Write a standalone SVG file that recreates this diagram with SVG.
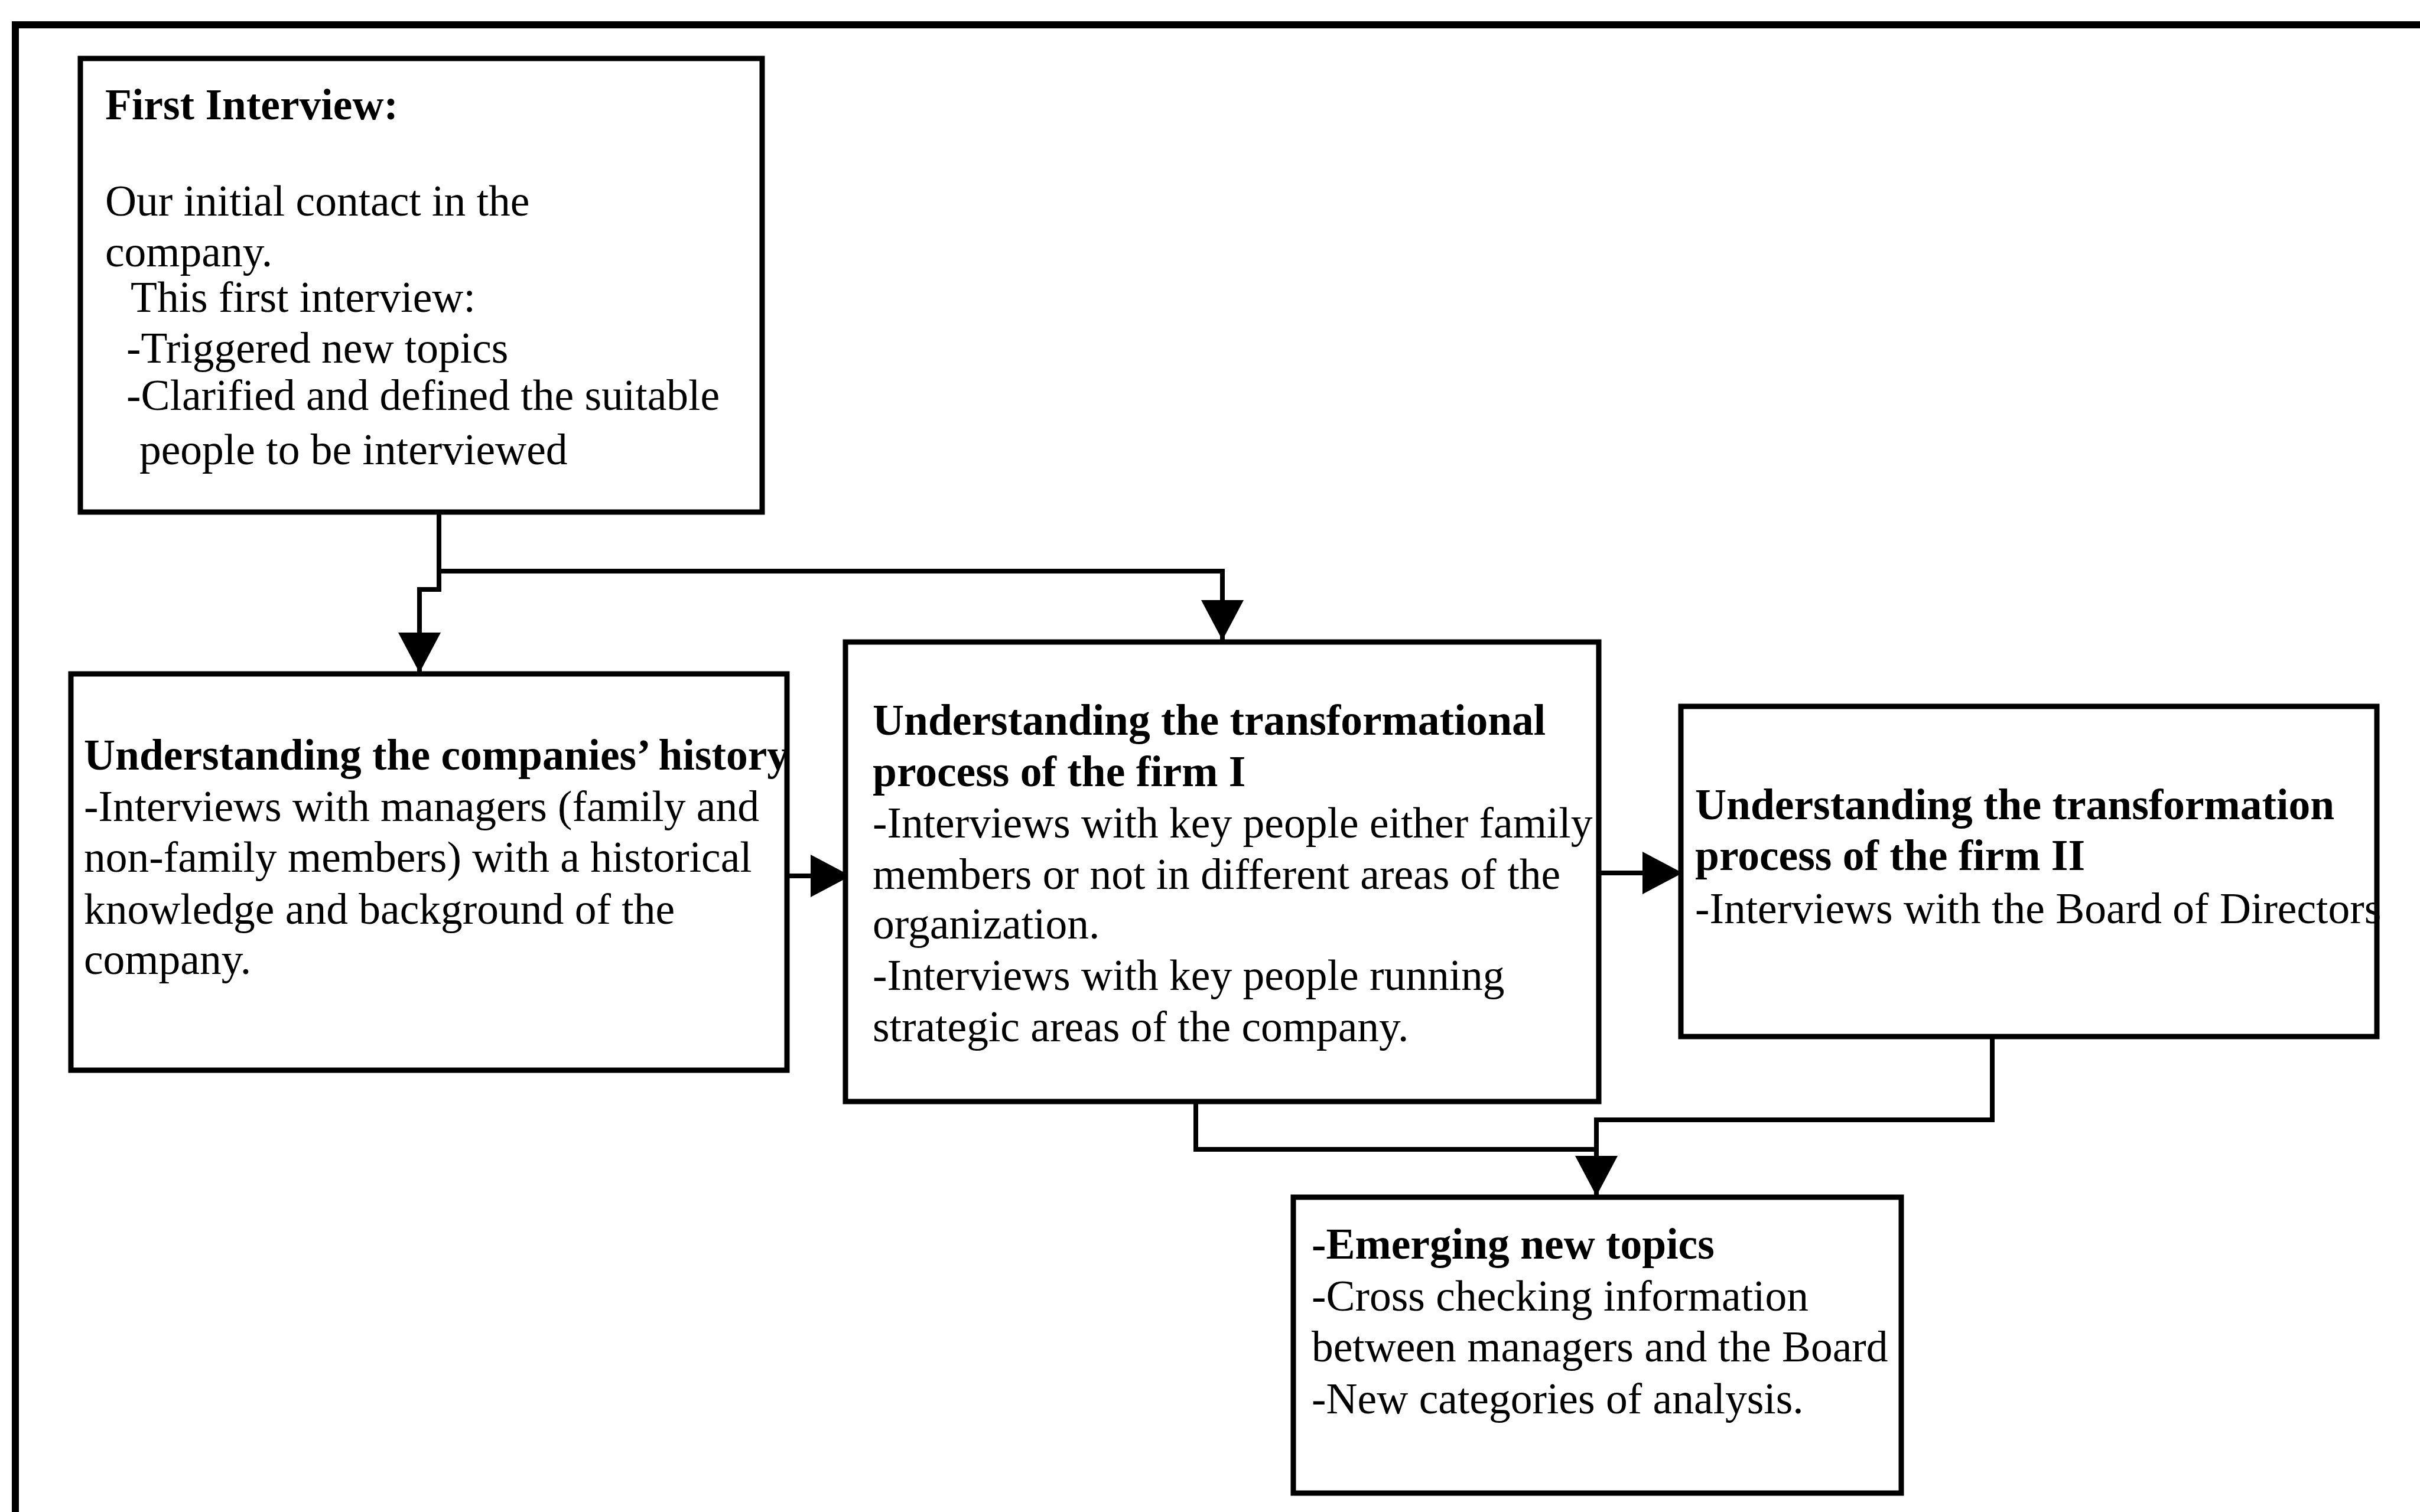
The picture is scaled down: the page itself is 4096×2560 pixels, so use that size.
<svg xmlns="http://www.w3.org/2000/svg" width="4096" height="2560" viewBox="0 0 4096 2560">
<style>
.box{fill:#fff;stroke:#000;stroke-width:9}
.frame{fill:none;stroke:#000;stroke-width:12}
.con{fill:none;stroke:#000;stroke-width:8}
text{font-family:"Liberation Serif","Times New Roman",serif;font-size:73.5px;fill:#000}
.b{font-weight:bold}
</style>
<defs>
<marker id="arr" markerUnits="userSpaceOnUse" markerWidth="70" markerHeight="72" refX="68" refY="36" orient="auto" viewBox="0 0 70 72">
<path d="M0,0 L68,36 L0,72 Z" fill="#000"/>
</marker>
</defs>
<rect width="4096" height="2560" fill="#fff"/>
<path class="frame" d="M26,2570 V42 H4100"/>
<g id="connectors">
<path class="con" d="M743,867 V967 H2069 V1084" marker-end="url(#arr)"/>
<path class="con" d="M743,967 V998 H710 V1139" marker-end="url(#arr)"/>
<path class="con" d="M1332,1483 H1440" marker-end="url(#arr)"/>
<path class="con" d="M2706,1478 H2848" marker-end="url(#arr)"/>
<path class="con" d="M2024,1865 V1946 H2702"/>
<path class="con" d="M3372,1755 V1896 H2702 V2025" marker-end="url(#arr)"/>
</g>
<g id="node-first-interview">
<rect class="box" x="136" y="99" width="1154" height="768"/>
<text class="b" x="178" y="202">First Interview:</text>
<text x="178" y="365">Our initial contact in the</text>
<text x="178" y="451">company.</text>
<text x="221" y="528">This first interview:</text>
<text x="214" y="614">-Triggered new topics</text>
<text x="214" y="694">-Clarified and defined the suitable</text>
<text x="236" y="786">people to be interviewed</text>
</g>
<g id="node-history">
<rect class="box" x="120" y="1141" width="1212" height="671"/>
<text class="b" x="142" y="1303">Understanding the companies’ history</text>
<text x="142" y="1390">-Interviews with managers (family and</text>
<text x="142" y="1476">non-family members) with a historical</text>
<text x="142" y="1564">knowledge and background of the</text>
<text x="142" y="1649">company.</text>
</g>
<g id="node-firm-1">
<rect class="box" x="1431" y="1087" width="1275" height="778"/>
<text class="b" x="1477" y="1244">Understanding the transformational</text>
<text class="b" x="1477" y="1331">process of the firm I</text>
<text x="1477" y="1418">-Interviews with key people either family</text>
<text x="1477" y="1505">members or not in different areas of the</text>
<text x="1477" y="1589">organization.</text>
<text x="1477" y="1676">-Interviews with key people running</text>
<text x="1477" y="1763">strategic areas of the company.</text>
</g>
<g id="node-firm-2">
<rect class="box" x="2845" y="1196" width="1178" height="559"/>
<text class="b" x="2869" y="1387">Understanding the transformation</text>
<text class="b" x="2869" y="1473">process of the firm II</text>
<text x="2869" y="1563">-Interviews with the Board of Directors</text>
</g>
<g id="node-emerging">
<rect class="box" x="2189" y="2027" width="1029" height="501"/>
<text class="b" x="2220" y="2131">-Emerging new topics</text>
<text x="2220" y="2219">-Cross checking information</text>
<text x="2220" y="2305">between managers and the Board</text>
<text x="2220" y="2393">-New categories of analysis.</text>
</g>
</svg>
